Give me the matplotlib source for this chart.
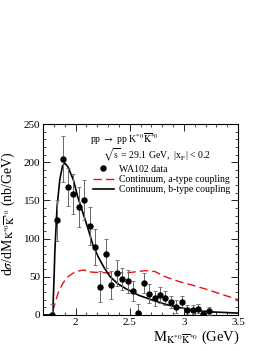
import matplotlib
matplotlib.use("Agg")
import matplotlib.pyplot as plt
from matplotlib.ticker import MultipleLocator
from matplotlib.lines import Line2D

plt.rcParams["font.family"] = ["Liberation Serif", "DejaVu Serif"]
plt.rcParams["mathtext.fontset"] = "stix"

# WA102 data points
mass = [1.78, 1.83, 1.88, 1.93, 1.98, 2.03, 2.08, 2.13, 2.18, 2.23,
        2.28, 2.33, 2.38, 2.43, 2.48, 2.53, 2.58, 2.63, 2.68, 2.73,
        2.78, 2.83, 2.88, 2.93, 2.98, 3.03, 3.08, 3.13, 3.18, 3.23]
xsec = [0, 124, 204, 168, 158, 141, 151, 116, 89, 37,
        80, 39, 55, 47, 44, 31, 2, 42, 28, 22,
        26, 22, 17, 11, 17, 7, 7, 8, 1, 5]
xsec_err = [15, 27, 30, 25, 26, 26, 26, 25, 24, 20,
            19, 18, 17, 14, 15, 13, 13, 13, 12, 10,
            10, 9, 8, 8, 8, 6, 6, 6, 5, 5]

# continuum, b-type coupling (black solid)
mass_b = [1.70, 1.775, 1.79, 1.80, 1.81, 1.83, 1.855, 1.88, 1.90, 1.93,
          1.98, 2.02, 2.07, 2.12, 2.16, 2.21, 2.26, 2.32, 2.39, 2.47,
          2.53, 2.58, 2.70, 2.83, 2.95, 3.08, 3.26, 3.50]
cont_b = [0, 0, 2, 40, 85, 142, 177, 195, 199, 194,
          177, 155, 133, 111, 92, 76, 63, 50, 41, 34,
          30, 26, 20, 14, 10, 6.5, 4, 2.5]

# continuum, a-type coupling (red dashed)
mass_a = [1.70, 1.78, 1.79, 1.81, 1.84, 1.885, 1.93, 1.98, 2.04, 2.085,
          2.10, 2.16, 2.32, 2.47, 2.58, 2.64, 2.73, 2.83, 2.95, 3.08,
          3.20, 3.33, 3.50]
cont_a = [0, 0, 5, 15, 29, 42, 50, 55, 58, 59,
          57, 56, 55, 55, 57, 58, 57, 50, 44, 39,
          34, 28, 20]

fig = plt.figure(figsize=(2.71, 3.51), dpi=100)
ax = fig.add_axes([43 / 271, 1 - 315 / 351, 195 / 271, 191 / 351])

ax.plot(mass_a, cont_a, color="#e8101a", lw=1.0, dashes=(6, 3), zorder=2)
ax.plot(mass_b, cont_b, color="black", lw=1.2, zorder=3)
ax.errorbar(mass, xsec, yerr=xsec_err, fmt="o", color="black", ms=3.6,
            ecolor="0.4", elinewidth=0.7, capsize=1.2, capthick=0.6, zorder=4)

ax.set_xlim(1.7, 3.5)
ax.set_ylim(0, 250)
ax.xaxis.set_major_locator(MultipleLocator(0.5))
ax.xaxis.set_minor_locator(MultipleLocator(0.1))
ax.yaxis.set_major_locator(MultipleLocator(50))
ax.yaxis.set_minor_locator(MultipleLocator(10))
ax.set_xticks([2, 2.5, 3, 3.5])
ax.set_xticklabels(["2", "2.5", "3", "3.5"])
ax.tick_params(which="both", direction="in", top=True, right=True, labelsize=8, pad=2)
ax.tick_params(which="major", length=5, width=0.6)
ax.tick_params(which="minor", length=2.5, width=0.5)
for s in ax.spines.values():
    s.set_linewidth(0.8)

ax.set_ylabel(r"d$\sigma$/dM$_{\mathrm{K^{*0}\overline{K}^{*0}}}$ (nb/GeV)", fontsize=10)
ax.yaxis.set_label_coords(-0.135, 0.53)
ax.set_xlabel(r"M$_{\mathrm{K^{*0}\overline{K}^{*0}}}$ (GeV)", fontsize=10.5, loc="right")
ax.xaxis.set_label_coords(1.01, -0.07)

ax.text(0.242, 0.918, r"pp $\rightarrow$ pp K$^{*0}\overline{\mathrm{K}}^{*0}$",
        transform=ax.transAxes, fontsize=7, va="center")
ax.text(0.31, 0.838, r"$\sqrt{\mathrm{s}}$ = 29.1 GeV,  |x$_{\mathrm{F}}$| < 0.2",
        transform=ax.transAxes, fontsize=7, va="center")

handles = [
    Line2D([], [], marker="o", ls="none", color="black", ms=3.6),
    Line2D([], [], color="#e8101a", lw=1.0, dashes=(6, 3)),
    Line2D([], [], color="black", lw=1.2),
]
labels = ["WA102 data", "Continuum, a-type coupling", "Continuum, b-type coupling"]
ax.legend(handles, labels, loc="upper left", bbox_to_anchor=(0.22, 0.822),
          frameon=False, fontsize=7, handlelength=2.2, handletextpad=0.5,
          labelspacing=0.12, borderpad=0.2)

fig.savefig("out.png", dpi=100)
